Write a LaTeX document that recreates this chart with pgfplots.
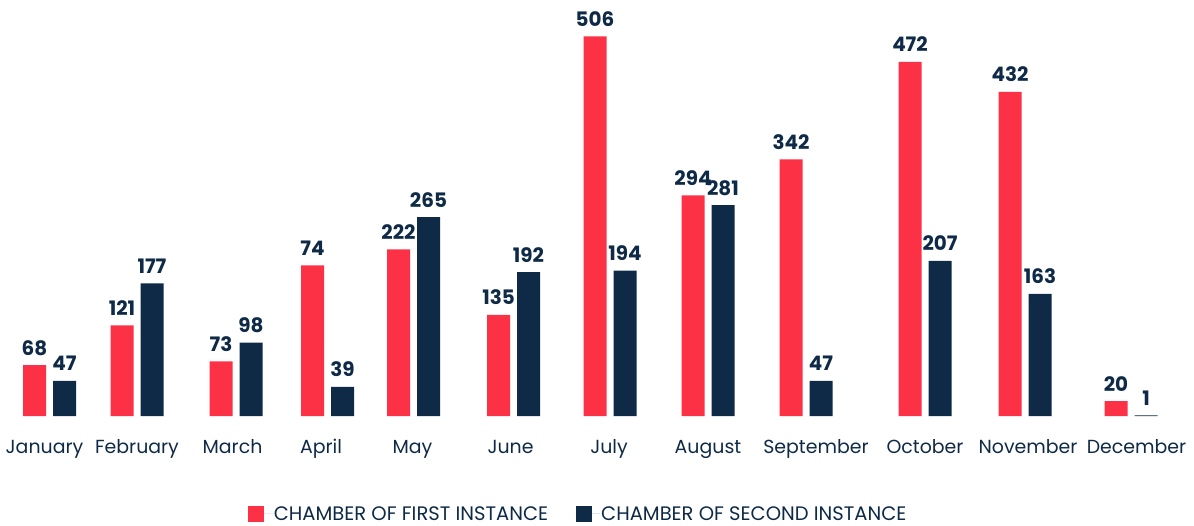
\documentclass[border=0pt]{standalone}
\usepackage{fontspec}
\setmainfont{Poppins}
\usepackage{pgfplots}
\usepackage{pgfplotstable}
\pgfplotsset{compat=1.18}
\definecolor{cred}{HTML}{FC3146}
\definecolor{cnavy}{HTML}{0E2A47}
\pgfplotstableread{
x      red  redlab  navy  navylab
49.5   68   68      47    47
137    121  121     177   177
236    73   73      98    98
327.5  201  74      39    39
413.5  222  222     265   265
513.5  135  135     192   192
610    506  506     194   194
708    294  294     281   281
806    342  342     47    47
925    472  472     207   207
1025   432  432     163   163
1131   20   20      1     1
}\data
\begin{document}
\begin{tikzpicture}
\begin{axis}[
  at={(0,0)}, anchor=south west,
  scale only axis, width=1194bp, height=416bp,
  xmin=0, xmax=1194, ymin=0, ymax=554.67,
  axis lines=none,
  clip=false,
  ybar, bar width=23,
  nodes near coords,
  point meta=explicit symbolic,
  every node near coord/.append style={font=\fontsize{20}{24}\selectfont\bfseries, text=cnavy, inner sep=0pt, anchor=base, yshift=10bp},
  legend columns=2,
  legend style={at={(0.484,-0.2355)}, anchor=center, draw=none, fill=none,
    font=\fontsize{19.6}{22}\selectfont, text=cnavy, inner sep=0pt,
    nodes={inner sep=1bp},
    /tikz/every even column/.append style={column sep=26.5bp}},
  legend image code/.code={\fill[#1] (0bp,-8bp) rectangle (16bp,8bp); \path (0bp,0bp) -- (24.5bp,0bp);},
]
\addplot[fill=cred, draw=none, bar shift=-15] table[x=x, y=red, meta=redlab] {\data};
\addplot[fill=cnavy, draw=none, bar shift=15] table[x=x, y=navy, meta=navylab] {\data};
\legend{CHAMBER OF FIRST INSTANCE, CHAMBER OF SECOND INSTANCE}
\foreach \xx/\lab in {44.5/January,137/February,232.5/March,321/April,412.5/May,510.5/June,609/July,708/August,816/September,925/October,1028/November,1136.5/December}{
  \edef\tmp{\noexpand\node[font=\noexpand\fontsize{19}{22}\noexpand\selectfont, text=cnavy, anchor=base, inner sep=0pt] at (axis cs:\xx,0) [yshift=-37bp] {\lab};}
  \tmp
}
\end{axis}
\pgfresetboundingbox
\path[use as bounding box] (0,-110bp) rectangle (1194bp,416bp);
\end{tikzpicture}
\end{document}
